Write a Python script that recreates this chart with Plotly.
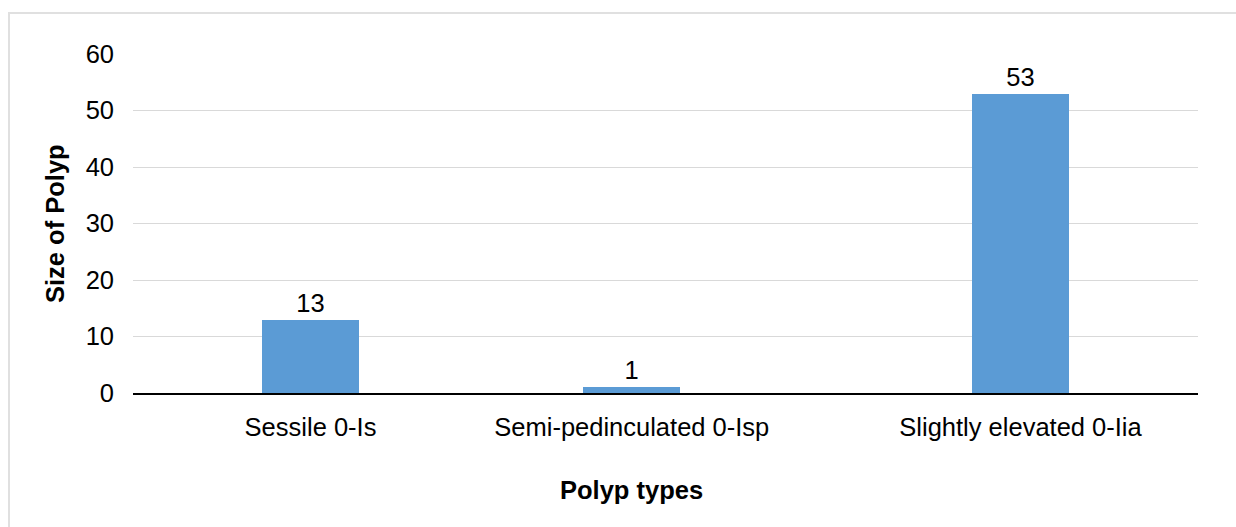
import plotly.graph_objects as go

# Polyp types and their recorded sizes
categories = ["Sessile 0-Is", "Semi-pedinculated 0-Isp", "Slightly elevated 0-Iia"]
sizes = [13, 1, 53]
slot = [0, 0.905, 2]           # horizontal placement of each category on the x axis
y_ticks = [0, 10, 20, 30, 40, 50, 60]

W, H = 1236, 527
ML, MR, MT, MB = 133, 38, 54, 134
PW, PH = W - ML - MR, H - MT - MB

FONT = "Liberation Sans, Arial, sans-serif"
FS = 25.5
BAR = "#5B9BD5"


def px_to_paper_x(px):
    return (px - ML) / PW


def px_to_paper_y(py):
    return (H - MB - py) / PH


fig = go.Figure(
    go.Bar(
        x=slot,
        y=sizes,
        width=0.273,
        marker=dict(color=BAR, line=dict(width=0)),
        text=[str(v) for v in sizes],
        textposition="outside",
        textfont=dict(family=FONT, size=FS, color="#000000"),
        cliponaxis=False,
        hoverinfo="skip",
    )
)

fig.update_layout(
    width=W,
    height=H,
    margin=dict(l=ML, r=MR, t=MT, b=MB, pad=0),
    paper_bgcolor="white",
    plot_bgcolor="white",
    showlegend=False,
    font=dict(family=FONT, size=FS, color="#000000"),
    bargap=0,
    xaxis=dict(
        range=[-0.5, 2.5],
        tickvals=slot,
        ticktext=categories,
        showgrid=False,
        zeroline=False,
        showline=True,
        linecolor="#000000",
        linewidth=2,
        ticks="",
        ticklabelstandoff=10,
        tickfont=dict(family=FONT, size=FS, color="#000000"),
        fixedrange=True,
    ),
    yaxis=dict(
        range=[0, 60],
        tickvals=y_ticks,
        showgrid=True,
        gridcolor="#d9d9d9",
        gridwidth=1,
        zeroline=False,
        showline=False,
        ticks="",
        ticklabelstandoff=18,
        tickfont=dict(family=FONT, size=FS, color="#000000"),
        fixedrange=True,
    ),
    annotations=[
        dict(
            text="<b>Polyp types</b>",
            xref="x", x=slot[1],
            yref="paper", y=px_to_paper_y(490),
            xanchor="center", yanchor="middle",
            showarrow=False,
            font=dict(family=FONT, size=FS, color="#000000"),
        ),
        dict(
            text="<b>Size of Polyp</b>",
            xref="paper", x=px_to_paper_x(55),
            yref="paper", y=px_to_paper_y(224),
            xanchor="center", yanchor="middle",
            textangle=-90,
            showarrow=False,
            font=dict(family=FONT, size=FS, color="#000000"),
        ),
    ],
    shapes=[
        dict(
            type="rect",
            xref="paper", yref="paper",
            x0=px_to_paper_x(9), x1=px_to_paper_x(W + 10),
            y0=px_to_paper_y(H + 10), y1=px_to_paper_y(13),
            line=dict(color="#e0e0e0", width=2),
            fillcolor="rgba(0,0,0,0)",
            layer="below",
        )
    ],
)

fig.write_html("out.html")
